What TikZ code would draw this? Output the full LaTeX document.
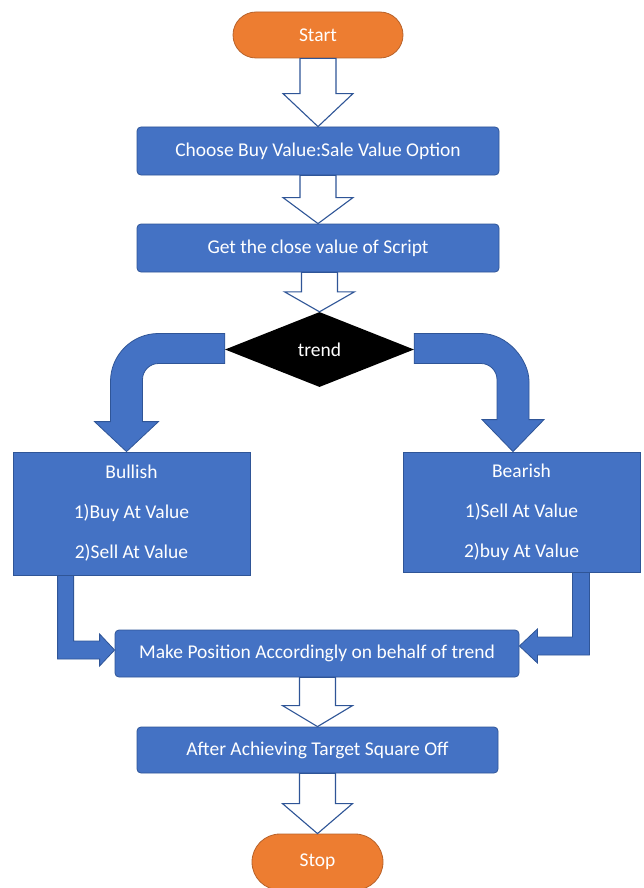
\documentclass[tikz,border=0pt]{standalone}
\usepackage{fontspec}
\setmainfont{Carlito}
\usetikzlibrary{shapes.geometric,calc}
\definecolor{boxblue}{HTML}{4472C4}
\definecolor{boxedge}{HTML}{2F5597}
\definecolor{termorange}{HTML}{ED7D31}
\definecolor{termedge}{HTML}{B8622A}
\newcommand{\harrow}[3]{%
  \draw[hollowarr] let \p1=(#1.south), \p2=(#2.north) in
    ({\x2-18pt},\y1) -- ({\x2-18pt},{\y2+#3}) -- ({\x2-35pt},{\y2+#3}) -- (\x2,\y2)
    -- ({\x2+35pt},{\y2+#3}) -- ({\x2+18pt},{\y2+#3}) -- ({\x2+18pt},\y1) -- cycle;}
\begin{document}
\begin{tikzpicture}[x=1pt,y=-1pt,
  font=\fontsize{19.5}{23}\selectfont,
  proc/.style={rectangle, rounded corners=4pt, fill=boxblue, draw=boxedge, line width=0.8pt, text=white, inner sep=0pt},
  sqbox/.style={rectangle, fill=boxblue, draw=boxedge, line width=0.8pt, text=white, inner sep=0pt, align=center,
    font=\fontsize{19.5}{40}\selectfont},
  term/.style={rectangle, fill=termorange, draw=termedge, line width=0.8pt, text=white, inner sep=0pt},
  hollowarr/.style={fill=white, draw=boxedge, line width=1.1pt, line join=miter},
  fatarr/.style={fill=boxblue, draw=boxedge, line width=0.8pt, line join=miter}]
\fill[white] (0,0) rectangle (643,888);
\useasboundingbox (0,0) rectangle (643,888);

\node[term, rounded corners=23pt, minimum width=170, minimum height=46] (start) at (318,35) {Start};
\node[proc, minimum width=362, minimum height=48] (box1) at (318,151) {Choose Buy Value:Sale Value Option};
\node[proc, minimum width=362, minimum height=48] (box2) at (318,248) {Get the close value of Script};
\node[diamond, fill=black, text=white, minimum width=189, minimum height=75, inner sep=0pt] (trend) at (319.5,349.5) {trend};
\node[sqbox, minimum width=237, minimum height=123] (bull) at (131.5,513.5) {Bullish\\1)Buy At Value\\2)Sell At Value};
\node[sqbox, minimum width=237, minimum height=120] (bear) at (521.5,512) {Bearish\\1)Sell At Value\\2)buy At Value};
\node[proc, minimum width=404, minimum height=47] (make) at (317,653.5) {Make Position Accordingly on behalf of trend};
\node[proc, minimum width=361, minimum height=46] (after) at (317.5,750) {After Achieving Target Square Off};
\node[term, rounded corners=28pt, minimum width=131, minimum height=56] (stop) at (317.5,862) {Stop};

\harrow{start}{box1}{33pt}
\harrow{box1}{box2}{26pt}
\harrow{box2}{trend}{20pt}
\harrow{make}{after}{21pt}
\harrow{after}{stop}{30pt}

% curved arrow to Bullish
\draw[fatarr] let \p1=(trend.west), \p2=(bull.north) in
  (\x1,{\y1+16pt}) -- ({\x2+27pt},{\y1+16pt})
  .. controls ({\x2+0.5pt},{\y1+16pt}) and ({\x2-21pt},{\y1-5.5pt}) .. ({\x2-21pt},{\y1-32pt})
  -- ({\x2-21pt},{\y2+30pt}) -- ({\x2-37pt},{\y2+30pt}) -- ({\x2-5pt},\y2)
  -- ({\x2+27pt},{\y2+30pt}) -- ({\x2+11pt},{\y2+30pt}) -- ({\x2+11pt},{\y1-30pt})
  .. controls ({\x2+11pt},{\y1-21.2pt}) and ({\x2+18.2pt},{\y1-14pt}) .. ({\x2+27pt},{\y1-14pt})
  -- (\x1,{\y1-14pt}) -- cycle;

% curved arrow to Bearish
\draw[fatarr] let \p1=(trend.east), \p2=(bear.north) in
  (\x1,{\y1+16pt}) -- ({\x2-40.5pt},{\y1+16pt})
  .. controls ({\x2-14pt},{\y1+16pt}) and ({\x2+7.5pt},{\y1-10.5pt}) .. ({\x2+7.5pt},{\y1-32pt})
  -- ({\x2+7.5pt},{\y2+32pt}) -- ({\x2+22.5pt},{\y2+32pt}) -- ({\x2-8.5pt},\y2)
  -- ({\x2-39.5pt},{\y2+32pt}) -- ({\x2-24.5pt},{\y2+32pt}) -- ({\x2-24.5pt},{\y1-30pt})
  .. controls ({\x2-24.5pt},{\y1-21.2pt}) and ({\x2-31.7pt},{\y1-14pt}) .. ({\x2-40.5pt},{\y1-14pt})
  -- (\x1,{\y1-14pt}) -- cycle;

% elbow arrow from Bullish
\draw[fatarr] let \p1=(bull.south west), \p2=(make.west) in
  ({\x1+45pt},\y1) -- ({\x1+45pt},{\y2-5.5pt}) -- ({\x2-15pt},{\y2-5.5pt}) -- ({\x2-15pt},{\y2-12.5pt})
  -- (\x2,{\y2+3.5pt}) -- ({\x2-15pt},{\y2+19.5pt}) -- ({\x2-15pt},{\y2+12.5pt})
  -- ({\x1+61pt},{\y2+12.5pt}) -- ({\x1+61pt},\y1) -- cycle;

% elbow arrow from Bearish
\draw[fatarr] let \p1=(bear.south east), \p2=(make.east) in
  ({\x1-51pt},\y1) -- ({\x1-51pt},{\y2-1.5pt}) -- ({\x2+18pt},{\y2-1.5pt}) -- ({\x2+18pt},{\y2-9.5pt})
  -- (\x2,{\y2+7.5pt}) -- ({\x2+18pt},{\y2+24.5pt}) -- ({\x2+18pt},{\y2+16.5pt})
  -- ({\x1-68pt},{\y2+16.5pt}) -- ({\x1-68pt},\y1) -- cycle;
\end{tikzpicture}
\end{document}
